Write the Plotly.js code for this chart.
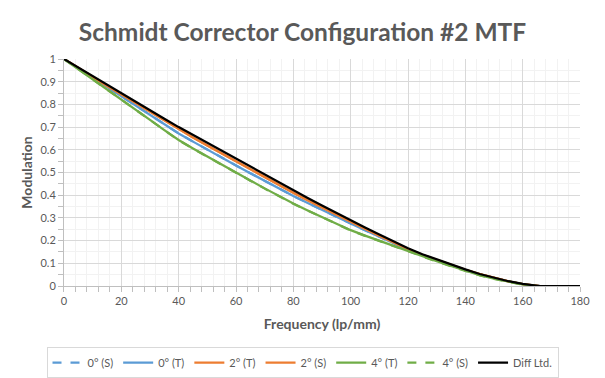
<!DOCTYPE html>
<html>
<head>
<meta charset="utf-8">
<script src="https://cdn.plot.ly/plotly-3.0.1.min.js"></script>
<style>html,body{margin:0;padding:0;background:#fff;}#chart{width:605px;height:378px;}</style>
</head>
<body>
<div id="chart"></div>
<script>
var freq = [0,5,10,15,20,25,30,35,40,45,50,55,60,65,70,75,80,85,90,95,100,105,110,115,120,125,130,135,140,145,150,155,160,165,166];
var freqDiff = [0,5,10,15,20,25,30,35,40,45,50,55,60,65,70,75,80,85,90,95,100,105,110,115,120,125,130,135,140,145,150,155,160,165,166,170,175,180];

var deg0S = [1.000,0.959,0.918,0.877,0.837,0.796,0.753,0.712,0.672,0.636,0.600,0.565,0.531,0.497,0.463,0.429,0.396,0.366,0.335,0.305,0.275,0.246,0.217,0.188,0.160,0.135,0.113,0.092,0.070,0.051,0.034,0.020,0.008,0.001,0.000];
var deg0T = [1.000,0.959,0.918,0.877,0.837,0.796,0.753,0.712,0.672,0.636,0.600,0.565,0.531,0.497,0.463,0.429,0.396,0.366,0.335,0.305,0.275,0.246,0.217,0.188,0.160,0.135,0.113,0.092,0.070,0.051,0.034,0.020,0.008,0.001,0.000];
var deg2T = [1.000,0.960,0.921,0.882,0.844,0.806,0.767,0.729,0.690,0.654,0.619,0.584,0.550,0.515,0.480,0.446,0.411,0.378,0.346,0.314,0.283,0.252,0.222,0.192,0.163,0.137,0.114,0.093,0.071,0.052,0.035,0.020,0.008,0.001,0.000];
var deg2S = [1.000,0.960,0.921,0.882,0.844,0.806,0.767,0.729,0.690,0.654,0.619,0.584,0.550,0.515,0.480,0.446,0.411,0.378,0.346,0.314,0.283,0.252,0.222,0.192,0.163,0.137,0.114,0.093,0.071,0.052,0.035,0.020,0.008,0.001,0.000];
var deg4T = [1.000,0.956,0.912,0.867,0.823,0.778,0.732,0.687,0.643,0.606,0.570,0.535,0.500,0.465,0.430,0.396,0.363,0.333,0.304,0.274,0.246,0.222,0.199,0.176,0.153,0.130,0.109,0.088,0.067,0.048,0.032,0.018,0.007,0.000,0.000];
var deg4S = [1.000,0.955,0.911,0.866,0.822,0.777,0.731,0.686,0.642,0.605,0.569,0.534,0.499,0.464,0.429,0.395,0.362,0.332,0.303,0.273,0.245,0.221,0.198,0.175,0.152,0.129,0.108,0.087,0.066,0.047,0.031,0.017,0.006,0.000,0.000];
var diffLtd = [1.000,0.962,0.924,0.886,0.849,0.812,0.774,0.737,0.700,0.665,0.630,0.595,0.560,0.525,0.490,0.455,0.421,0.388,0.355,0.322,0.290,0.258,0.227,0.196,0.166,0.140,0.117,0.095,0.073,0.053,0.036,0.021,0.009,0.001,0.000,0.000,0.000,0.000];

var names = ['0° (S)','0° (T)','2° (T)','2° (S)','4° (T)','4° (S)','Diff Ltd.'];

var BLUE = '#5b9bd5', ORANGE = '#ed7d31', GREEN = '#70ad47', BLACK = '#000000';
var LW = 2.25;

function tr(x, y, name, color, dash) {
  return {x: x, y: y, name: name, type: 'scatter', mode: 'lines', cliponaxis: false,
    line: {color: color, width: LW, dash: dash || 'solid'}};
}

var data = [
  tr(freq, deg0S, names[0], BLUE, 'dash'),
  tr(freq, deg0T, names[1], BLUE),
  tr(freq, deg2T, names[2], ORANGE),
  tr(freq, deg2S, names[3], ORANGE),
  tr(freq, deg4T, names[4], GREEN),
  tr(freq, deg4S, names[5], GREEN, 'dash'),
  tr(freqDiff, diffLtd, names[6], BLACK)
];

var TXT = '#595959';
var FONT = 'Lato, "Open Sans", sans-serif';

var layout = {
  width: 605, height: 378,
  margin: {l: 10, r: 10, t: 59, b: 92, autoexpand: false},
  paper_bgcolor: '#ffffff', plot_bgcolor: '#ffffff',
  font: {family: FONT, color: TXT, size: 11},
  title: {text: '<b>Schmidt Corrector Configuration #2 MTF</b>', x: 0.5, xanchor: 'center',
    yref: 'container', y: 0.913, yanchor: 'middle',
    font: {family: FONT, size: 24.5, color: TXT}},
  xaxis: {
    domain: [0.0923, 0.9744],
    range: [0, 180], dtick: 20, tick0: 0, showgrid: true, gridcolor: '#d9d9d9', gridwidth: 1,
    zeroline: false, showline: true, linecolor: '#bfbfbf', linewidth: 1, automargin: false,
    ticks: 'outside', ticklen: 5, tickcolor: '#bfbfbf',
    minor: {dtick: 4, showgrid: true, gridcolor: '#f2f2f2', ticks: 'outside', ticklen: 5, tickcolor: '#bfbfbf'},
    tickfont: {size: 11, color: TXT},
    title: {text: '<b>Frequency (lp/mm)</b>', font: {size: 14, color: TXT}, standoff: 12}
  },
  yaxis: {
    range: [0, 1], dtick: 0.1, tick0: 0, showgrid: true, gridcolor: '#d9d9d9', gridwidth: 1,
    zeroline: false, showline: true, linecolor: '#bfbfbf', linewidth: 1, automargin: false,
    ticks: 'outside', ticklen: 5, tickcolor: '#bfbfbf',
    minor: {dtick: 0.05, showgrid: true, gridcolor: '#f2f2f2', ticks: 'outside', ticklen: 5, tickcolor: '#bfbfbf'},
    tickfont: {size: 11, color: TXT},
    title: {text: '<b>Modulation</b>', font: {size: 14, color: TXT}, standoff: 4}
  },
  legend: {orientation: 'h', x: 0.5, xref: 'container', xanchor: 'center',
    yref: 'container', y: 0.082, yanchor: 'top',
    bordercolor: '#d9d9d9', borderwidth: 1, font: {size: 11, color: TXT},
    itemwidth: 30, tracegroupgap: 0},
  showlegend: true
};

Plotly.newPlot('chart', data, layout, {displayModeBar: false, staticPlot: true});
</script>
</body>
</html>
